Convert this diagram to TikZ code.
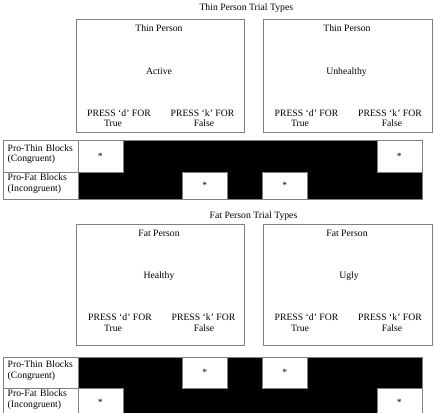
\documentclass[tikz,border=0pt]{standalone}
\usepackage{fontspec}
\setmainfont{Liberation Serif}
\begin{document}
\begin{tikzpicture}[
  x=1pt, y=-1pt,
  every node/.style={inner sep=0pt, font=\fontsize{9.7}{10.8}\selectfont},
  words/.style={anchor=base},
  screen/.style={draw=gray, anchor=north west, minimum width=168.5pt},
  rowhead/.style={draw=gray, anchor=north west, minimum width=74.5pt, text width=65.5pt, inner xsep=4.5pt, text depth=16.5pt, align=left},
  blocks/.style={draw=gray, fill=black, anchor=north west, minimum width=344.5pt},
  hit/.style={draw=gray, fill=white, anchor=north west, minimum width=45.3pt}
]
  \useasboundingbox (0,0) rectangle (435,412);

  % thin person trial types
  \node[words] (thintitle) at (246.3,10.6) {Thin Person Trial Types};

  \node[screen, minimum height=113pt] (activescreen) at (75.5,19) {};
  \node[words] (activeperson) at (159,31.3) {Thin Person};
  \node[words] (activeword) at (159,74.3) {Active};
  \node[words] (actived) at (119,116.3) {PRESS `d' FOR};
  \node[words] (activetrue) at (113,126.3) {True};
  \node[words] (activek) at (202.5,116.3) {PRESS `k' FOR};
  \node[words] (activefalse) at (204,126.3) {False};

  \node[screen, minimum height=113pt] (unhealthyscreen) at (263,19) {};
  \node[words] (unhealthyperson) at (347,31.3) {Thin Person};
  \node[words] (unhealthyword) at (346.5,74.3) {Unhealthy};
  \node[words] (unhealthyd) at (306.5,116.3) {PRESS `d' FOR};
  \node[words] (unhealthytrue) at (300,126.3) {True};
  \node[words] (unhealthyk) at (390,116.3) {PRESS `k' FOR};
  \node[words] (unhealthyfalse) at (392,126.3) {False};

  \node[blocks, minimum height=59pt] (thinblocks) at (77.5,140) {};
  \node[rowhead, minimum height=31.7pt] (thinpro) at (3,140) {Pro-Thin Blocks\\(Congruent)};
  \node[rowhead, minimum height=27.3pt] (thinanti) at (3,171.7) {Pro-Fat Blocks\\(Incongruent)};
  \node[hit, minimum height=31.7pt] (thinhitA) at (77.5,140) {*};
  \node[hit, minimum height=31.7pt] (thinhitB) at (376.5,140) {*};
  \node[hit, minimum height=27.3pt] (thinhitC) at (182,171.7) {*};
  \node[hit, minimum height=27.3pt] (thinhitD) at (262,171.7) {*};

  % fat person trial types
  \node[words] (fattitle) at (253.5,218.3) {Fat Person Trial Types};

  \node[screen, minimum height=120.7pt] (healthyscreen) at (75.5,224.3) {};
  \node[words] (healthyperson) at (159,236) {Fat Person};
  \node[words] (healthyword) at (159,278.3) {Healthy};
  \node[words] (healthyd) at (120,320.3) {PRESS `d' FOR};
  \node[words] (healthytrue) at (113,331.3) {True};
  \node[words] (healthyk) at (203.5,320.3) {PRESS `k' FOR};
  \node[words] (healthyfalse) at (204,331.3) {False};

  \node[screen, minimum height=120.7pt] (uglyscreen) at (263,224.3) {};
  \node[words] (uglyperson) at (347,236) {Fat Person};
  \node[words] (uglyword) at (349,278.3) {Ugly};
  \node[words] (uglyd) at (306.5,320.3) {PRESS `d' FOR};
  \node[words] (uglytrue) at (300,331.3) {True};
  \node[words] (uglyk) at (390,320.3) {PRESS `k' FOR};
  \node[words] (uglyfalse) at (392,331.3) {False};

  \node[blocks, minimum height=58.6pt] (fatblocks) at (77.5,356.7) {};
  \node[rowhead, minimum height=31.3pt] (fatpro) at (3,356.7) {Pro-Thin Blocks\\(Congruent)};
  \node[rowhead, minimum height=27.3pt] (fatanti) at (3,388) {Pro-Fat Blocks\\(Incongruent)};
  \node[hit, minimum height=31.3pt] (fathitA) at (182,356.7) {*};
  \node[hit, minimum height=31.3pt] (fathitB) at (262,356.7) {*};
  \node[hit, minimum height=27.3pt] (fathitC) at (77.5,388) {*};
  \node[hit, minimum height=27.3pt] (fathitD) at (376.5,388) {*};
\end{tikzpicture}
\end{document}
